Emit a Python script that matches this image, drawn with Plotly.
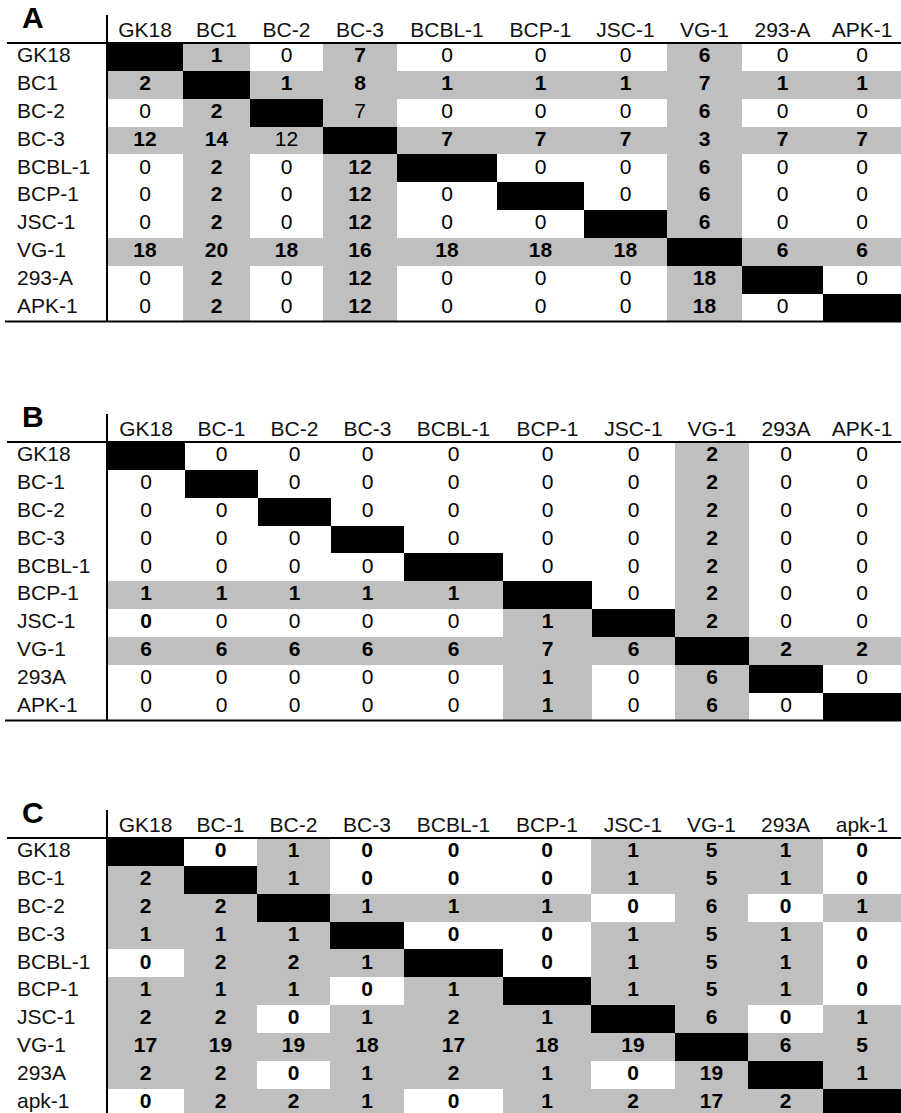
import plotly.graph_objects as go

# ---------------- data ----------------
labels_A = ["GK18", "BC1", "BC-2", "BC-3", "BCBL-1", "BCP-1", "JSC-1", "VG-1", "293-A", "APK-1"]
labels_B = ["GK18", "BC-1", "BC-2", "BC-3", "BCBL-1", "BCP-1", "JSC-1", "VG-1", "293A", "APK-1"]
labels_C = ["GK18", "BC-1", "BC-2", "BC-3", "BCBL-1", "BCP-1", "JSC-1", "VG-1", "293A", "apk-1"]

N = None  # diagonal (self comparison)
values_A = [
    [N, 1, 0, 7, 0, 0, 0, 6, 0, 0],
    [2, N, 1, 8, 1, 1, 1, 7, 1, 1],
    [0, 2, N, 7, 0, 0, 0, 6, 0, 0],
    [12, 14, 12, N, 7, 7, 7, 3, 7, 7],
    [0, 2, 0, 12, N, 0, 0, 6, 0, 0],
    [0, 2, 0, 12, 0, N, 0, 6, 0, 0],
    [0, 2, 0, 12, 0, 0, N, 6, 0, 0],
    [18, 20, 18, 16, 18, 18, 18, N, 6, 6],
    [0, 2, 0, 12, 0, 0, 0, 18, N, 0],
    [0, 2, 0, 12, 0, 0, 0, 18, 0, N],
]
bold_A = [
    [0, 1, 0, 1, 0, 0, 0, 1, 0, 0],
    [1, 0, 1, 1, 1, 1, 1, 1, 1, 1],
    [0, 1, 0, 0, 0, 0, 0, 1, 0, 0],
    [1, 1, 0, 0, 1, 1, 1, 1, 1, 1],
    [0, 1, 0, 1, 0, 0, 0, 1, 0, 0],
    [0, 1, 0, 1, 0, 0, 0, 1, 0, 0],
    [0, 1, 0, 1, 0, 0, 0, 1, 0, 0],
    [1, 1, 1, 1, 1, 1, 1, 0, 1, 1],
    [0, 1, 0, 1, 0, 0, 0, 1, 0, 0],
    [0, 1, 0, 1, 0, 0, 0, 1, 0, 0],
]

values_B = [
    [N, 0, 0, 0, 0, 0, 0, 2, 0, 0],
    [0, N, 0, 0, 0, 0, 0, 2, 0, 0],
    [0, 0, N, 0, 0, 0, 0, 2, 0, 0],
    [0, 0, 0, N, 0, 0, 0, 2, 0, 0],
    [0, 0, 0, 0, N, 0, 0, 2, 0, 0],
    [1, 1, 1, 1, 1, N, 0, 2, 0, 0],
    [0, 0, 0, 0, 0, 1, N, 2, 0, 0],
    [6, 6, 6, 6, 6, 7, 6, N, 2, 2],
    [0, 0, 0, 0, 0, 1, 0, 6, N, 0],
    [0, 0, 0, 0, 0, 1, 0, 6, 0, N],
]
bold_B = [
    [0, 0, 0, 0, 0, 0, 0, 1, 0, 0],
    [0, 0, 0, 0, 0, 0, 0, 1, 0, 0],
    [0, 0, 0, 0, 0, 0, 0, 1, 0, 0],
    [0, 0, 0, 0, 0, 0, 0, 1, 0, 0],
    [0, 0, 0, 0, 0, 0, 0, 1, 0, 0],
    [1, 1, 1, 1, 1, 0, 0, 1, 0, 0],
    [1, 0, 0, 0, 0, 1, 0, 1, 0, 0],
    [1, 1, 1, 1, 1, 1, 1, 0, 1, 1],
    [0, 0, 0, 0, 0, 1, 0, 1, 0, 0],
    [0, 0, 0, 0, 0, 1, 0, 1, 0, 0],
]

values_C = [
    [N, 0, 1, 0, 0, 0, 1, 5, 1, 0],
    [2, N, 1, 0, 0, 0, 1, 5, 1, 0],
    [2, 2, N, 1, 1, 1, 0, 6, 0, 1],
    [1, 1, 1, N, 0, 0, 1, 5, 1, 0],
    [0, 2, 2, 1, N, 0, 1, 5, 1, 0],
    [1, 1, 1, 0, 1, N, 1, 5, 1, 0],
    [2, 2, 0, 1, 2, 1, N, 6, 0, 1],
    [17, 19, 19, 18, 17, 18, 19, N, 6, 5],
    [2, 2, 0, 1, 2, 1, 0, 19, N, 1],
    [0, 2, 2, 1, 0, 1, 2, 17, 2, N],
]
bold_C = [[1] * 10 for _ in range(10)]

panel_letters = ["A", "B", "C"]

# ---------------- layout / style ----------------
W, H = 901, 1113
ROW_H = 27.85
HEADER_LINE_PX = [43, 442, 838]          # pixel y of the rule under the column headers
COL_EDGES = [                            # column boundaries (table column widths)
    [107, 183, 250, 323, 397, 497, 584, 667, 742, 823, 901],
    [107, 185, 258, 331, 404, 503, 592, 675, 749, 823, 901],
    [107, 184, 257, 330, 404, 503, 591, 675, 748, 823, 901],
]
LABEL_X = 17
LETTER_X = 22
GRAY = "#bfbfbf"
FONT = "Liberation Sans, Arial, Helvetica, sans-serif"
FS = 21

tables = [
    (labels_A, values_A, bold_A),
    (labels_B, values_B, bold_B),
    (labels_C, values_C, bold_C),
]

fig = go.Figure()
layout_axes = {}
shapes = []

for k, ((labels, values, bold), hline, edges, letter) in enumerate(
        zip(tables, HEADER_LINE_PX, COL_EDGES, panel_letters)):
    xa = "x" if k == 0 else f"x{k+1}"
    ya = "y" if k == 0 else f"y{k+1}"

    def py(px, hline=hline):
        return -0.5 + (px - hline) / ROW_H

    top_px = hline - 43
    bot_px = min(hline + 10 * ROW_H + 3, H)
    dom = [1 - bot_px / H, 1 - top_px / H]

    z = [[2 if v is None else (1 if v > 0 else 0) for v in row] for row in values]
    fig.add_trace(go.Heatmap(
        x=edges, y=list(range(10)), z=z, zmin=0, zmax=2,
        colorscale=[[0, "#ffffff"], [0.25, "#ffffff"], [0.25, GRAY],
                    [0.75, GRAY], [0.75, "#000000"], [1, "#000000"]],
        showscale=False, hoverinfo="skip", xaxis=xa, yaxis=ya,
    ))

    centers = [(edges[i] + edges[i + 1]) / 2 for i in range(10)]
    tx, ty, tt = [], [], []
    for r, row in enumerate(values):
        for c, v in enumerate(row):
            if v is None:
                continue
            tx.append(centers[c])
            ty.append(r)
            tt.append(f"<b>{v}</b>" if bold[r][c] else str(v))
    fig.add_trace(go.Scatter(
        x=tx, y=ty, text=tt, mode="text", textposition="middle center",
        textfont=dict(family=FONT, size=FS, color="#000"),
        hoverinfo="skip", showlegend=False, xaxis=xa, yaxis=ya, cliponaxis=False,
    ))
    # row labels
    fig.add_trace(go.Scatter(
        x=[LABEL_X] * 10, y=list(range(10)), text=labels, mode="text",
        textposition="middle right",
        textfont=dict(family=FONT, size=FS, color="#111"),
        hoverinfo="skip", showlegend=False, xaxis=xa, yaxis=ya, cliponaxis=False,
    ))
    # column headers
    fig.add_trace(go.Scatter(
        x=centers, y=[py(hline - 11.5)] * 10, text=labels, mode="text",
        textposition="middle center",
        textfont=dict(family=FONT, size=FS, color="#111"),
        hoverinfo="skip", showlegend=False, xaxis=xa, yaxis=ya, cliponaxis=False,
    ))
    # panel letter
    fig.add_trace(go.Scatter(
        x=[LETTER_X], y=[py(hline - 23)], text=[f"<b>{letter}</b>"], mode="text",
        textposition="middle right",
        textfont=dict(family=FONT, size=30, color="#000"),
        hoverinfo="skip", showlegend=False, xaxis=xa, yaxis=ya, cliponaxis=False,
    ))

    # table rules
    shapes.append(dict(type="line", xref=xa, yref=ya, x0=7, x1=W, y0=-0.5, y1=-0.5,
                       line=dict(color="#000", width=2)))
    shapes.append(dict(type="line", xref=xa, yref=ya, x0=5, x1=W, y0=9.5, y1=9.5,
                       line=dict(color="#000", width=2)))
    shapes.append(dict(type="line", xref=xa, yref=ya, x0=edges[0], x1=edges[0],
                       y0=py(hline - 28), y1=9.5, line=dict(color="#000", width=2)))

    layout_axes[("xaxis" if k == 0 else f"xaxis{k+1}")] = dict(
        range=[0, W], domain=[0, 1], visible=False, fixedrange=True, anchor=ya)
    layout_axes[("yaxis" if k == 0 else f"yaxis{k+1}")] = dict(
        range=[py(bot_px), py(top_px)], domain=dom, visible=False,
        fixedrange=True, anchor=xa)

fig.update_layout(
    width=W, height=H, margin=dict(l=0, r=0, t=0, b=0),
    paper_bgcolor="white", plot_bgcolor="white", showlegend=False,
    shapes=shapes, **layout_axes,
)

fig.write_html("out.html", config={"displayModeBar": False},
               post_script="document.body.style.margin='0';document.body.style.overflow='hidden';")
